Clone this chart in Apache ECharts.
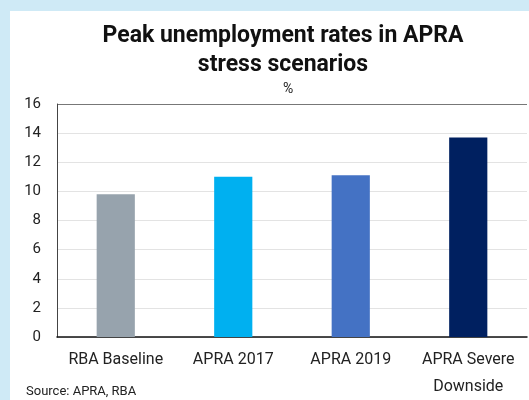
<!DOCTYPE html>
<html>
<head>
<meta charset="utf-8">
<script src="https://cdn.jsdelivr.net/npm/echarts@6/dist/echarts.min.js"></script>
<style>
html,body{margin:0;padding:0;background:#cfeaf6;}
#panel{position:absolute;left:10px;top:11px;width:519px;height:389px;background:#ffffff;}
#chart{position:absolute;left:0;top:0;width:529px;height:400px;}
</style>
</head>
<body>
<div id="panel"></div>
<div id="chart"></div>
<script>
const categories = ['RBA Baseline', 'APRA 2017', 'APRA 2019', 'APRA Severe\nDownside'];
const values = [9.8, 11.0, 11.1, 13.7];
const barColors = ['#97a3ad', '#00b0f0', '#4472c4', '#002060'];
const yTicks = [0, 2, 4, 6, 8, 10, 12, 14, 16];

const FONT = 'Roboto';
const chart = echarts.init(document.getElementById('chart'), null, {renderer: 'canvas'});
const splitColors = yTicks.map((t, i) => i === yTicks.length - 1 ? '#777777' : '#e3e3e3');
chart.setOption({
  backgroundColor: 'transparent',
  animation: false,
  title: {
    text: 'Peak unemployment rates in APRA\nstress scenarios',
    left: 278, top: 17, textAlign: 'center',
    textStyle: {fontFamily: FONT, fontWeight: 'bold', fontSize: 23, lineHeight: 29, color: '#111'}
  },
  grid: {left: 57, top: 104, right: 2, bottom: 63, containLabel: false},
  xAxis: {
    type: 'category', data: categories,
    axisLine: {show: true, lineStyle: {color: '#111', width: 1.5}},
    axisTick: {show: false},
    axisLabel: {fontFamily: FONT, fontSize: 16, color: '#222', margin: 9, lineHeight: 27, interval: 0}
  },
  yAxis: {
    type: 'value', min: yTicks[0], max: yTicks[yTicks.length - 1], interval: 2,
    axisLine: {show: true, lineStyle: {color: '#444', width: 1}},
    axisTick: {show: false},
    axisLabel: {fontFamily: FONT, fontSize: 15, color: '#222', margin: 16},
    splitLine: {show: true, lineStyle: {color: splitColors, width: 1}}
  },
  series: [{
    type: 'bar',
    data: values.map((v, i) => ({value: v, itemStyle: {color: barColors[i]}})),
    barWidth: '32.5%'
  }],
  graphic: [
    {type: 'text', left: 283, top: 82, style: {text: '%', fontFamily: FONT, fontSize: 14, fill: '#222'}},
    {type: 'text', left: 26, top: 385, style: {text: 'Source: APRA, RBA', fontFamily: FONT, fontSize: 13, fill: '#222'}}
  ]
});
</script>
</body>
</html>
